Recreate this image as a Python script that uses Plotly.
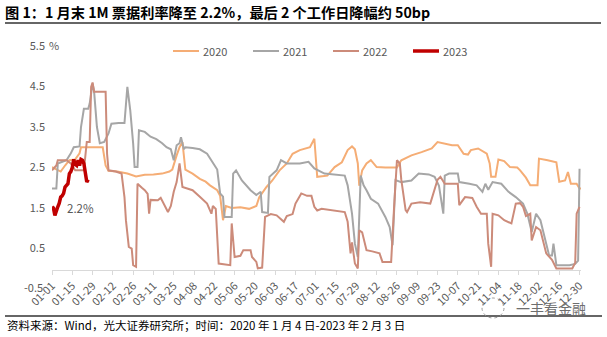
import plotly.graph_objects as go
import pandas as pd

# ---- data (day offset from Jan 1, value in %) ----
d20 = [0,3,6,9,12,16,19,20,26,33,35,37,39,45,52,58,64,70,76,81,83,86,88,90,92,97,102,106,109,114,116,118,120,124,130,136,141,143,148,152,157,162,166,171,178,181,183,190,195,200,204,207,209,211,212,214,217,220,224,230,238,241,248,255,262,266,270,276,280,284,287,289,294,300,302,303,306,308,312,316,321,323,327,330,335,336,342,348,350,354,356,358,362,364,365]
v20 = [2.51,2.45,2.40,2.55,2.68,2.70,2.85,3.0,3.0,3.0,3.0,2.55,2.42,2.40,2.35,2.28,2.32,2.33,2.35,2.40,2.45,2.80,3.0,3.13,2.45,2.35,2.22,2.15,2.06,1.94,1.80,1.20,1.55,1.50,1.52,1.48,1.55,1.77,2.02,2.18,2.43,2.60,2.84,2.93,3.0,3.21,2.27,2.30,2.51,2.63,2.93,3.02,2.95,2.60,2.05,2.43,2.60,2.68,2.51,2.50,2.50,2.68,2.80,2.88,2.97,3.13,3.10,3.05,3.05,2.84,2.82,2.93,2.97,2.84,2.60,2.27,2.27,2.70,2.66,2.51,2.50,2.43,2.25,2.06,2.06,2.72,2.68,2.63,2.15,2.18,2.39,2.10,2.10,1.98,1.98]

d21 = [0,3,4,7,10,13,15,19,20,22,25,26,28,29,31,33,36,39,41,46,50,52,54,56,57,59,60,64,68,72,76,79,82,84,86,88,89,91,92,97,102,107,111,114,116,118,119,124,125,127,131,134,137,141,144,145,149,150,155,158,162,166,171,177,179,181,188,195,202,204,207,209,211,213,215,217,220,225,230,233,235,237,241,248,253,260,264,267,270,271,274,280,281,288,293,297,299,301,304,310,315,320,325,328,331,334,337,341,343,345,346,348,357,361,363,364]
v21 = [1.98,1.98,2.60,2.65,2.68,2.85,3.0,3.02,3.5,3.95,3.95,4.08,4.57,4.40,3.50,3.10,3.13,3.34,3.58,3.60,3.60,4.49,3.91,3.09,2.51,2.51,3.42,3.38,3.26,3.20,3.10,3.0,2.95,2.68,3.05,3.10,3.25,2.95,3.0,2.98,2.95,2.84,2.60,2.45,1.86,1.78,1.28,1.28,2.35,2.43,2.18,2.05,1.94,1.82,1.90,1.40,1.38,2.27,2.43,2.68,2.60,2.60,2.60,2.64,2.55,2.48,2.35,2.32,2.30,2.06,1.36,0.62,0.29,2.30,2.06,1.94,1.73,1.61,1.28,1.03,0.58,2.19,2.14,2.18,2.35,2.33,2.27,2.05,1.36,2.30,2.35,2.35,2.14,2.10,2.06,1.90,2.10,1.95,2.14,2.10,1.90,1.77,1.61,1.36,0.91,1.36,1.20,0.62,0.33,0.33,0.62,0.09,0.09,0.12,0.20,2.47]

d22 = [0,3,4,10,13,16,22,23,24,26,27,28,29,37,38,39,44,48,49,50,51,53,55,56,58,59,62,64,66,67,68,71,73,75,77,80,82,84,86,88,90,94,97,102,107,110,111,113,115,123,124,126,130,132,137,138,141,142,145,147,151,155,160,162,166,168,172,176,179,181,183,186,193,198,202,204,206,207,209,211,212,214,217,221,226,228,234,236,238,240,241,244,245,248,254,261,263,266,268,271,280,281,285,290,293,296,300,301,303,304,308,312,317,320,323,325,327,330,331,334,337,341,345,348,359,361,362,364]
v22 = [2.43,2.55,2.68,2.68,2.60,2.43,2.43,2.90,3.13,3.13,4.49,4.60,4.37,4.37,2.84,2.43,2.40,2.35,2.02,1.77,1.20,0.54,0.50,0.09,0.05,2.10,2.0,1.94,1.85,1.36,1.70,1.69,1.69,1.75,1.61,1.40,1.55,1.90,2.14,2.60,2.02,1.98,1.94,1.78,1.61,1.36,1.55,1.48,0.13,0.09,1.12,0.29,0.32,0.46,0.46,0.29,0.17,0.01,0.03,1.28,1.35,1.32,1.16,1.30,1.35,1.61,1.86,1.80,1.80,1.53,1.44,1.48,1.44,1.42,1.40,1.16,0.38,0.65,0.13,0.01,0.95,0.90,0.46,0.43,0.38,0.17,0.17,1.5,2.68,2.60,2.20,1.45,1.40,1.61,1.64,1.61,1.86,2.20,2.27,2.10,2.10,1.57,1.77,1.75,1.53,1.36,1.36,0.62,0.05,1.36,1.32,1.20,1.12,1.61,1.62,1.53,1.30,1.36,0.70,1.03,0.95,0.38,0.22,0.01,0.01,0.15,1.36,1.53]

d23 = [0,1,2,3,4,5,6,7,8,9,10,11,12,13,14,15,16,17,18,19,20,21,22,23,24,25]
v23 = [1.53,1.50,1.32,1.45,1.53,1.62,1.77,1.80,1.86,2.02,2.05,2.10,2.35,2.40,2.50,2.70,2.58,2.55,2.68,2.55,2.70,2.68,2.60,2.30,2.14,2.20]

series_names = ["2020", "2021", "2022", "2023"]
series_colors = ["#F5AD75", "#A6A6A6", "#CC8B7A", "#C00000"]
series_widths = [2, 2, 2, 3.5]

base = pd.Timestamp("2020-01-01")
def to_dates(days):
    return [base + pd.Timedelta(days=d) for d in days]

tick_dates = pd.date_range("2020-01-01", "2020-12-30", freq="14D")
tick_text = [t.strftime("%m-%d") for t in tick_dates]
y_ticks = [0.5, 1.5, 2.5, 3.5, 4.5, 5.5]

FONT = "Noto Sans CJK SC"
GRAY = "#595959"

fig = go.Figure()
for name, d, v, c, w in zip(series_names, [d20, d21, d22, d23], [v20, v21, v22, v23], series_colors, series_widths):
    fig.add_trace(go.Scatter(x=to_dates(d), y=v, mode="lines", name=name,
                             line=dict(color=c, width=w), showlegend=False))

# plot area in pixels: left 52, right 581, top 46, bottom 270
L, W, B, H = 52, 529, 270, 224
def px(x):
    return (x - L) / W
def py(y):
    return (B - y) / H

fig.update_layout(
    width=607, height=337,
    margin=dict(l=L, r=607 - L - W, t=46, b=337 - B),
    paper_bgcolor="white", plot_bgcolor="white",
    font=dict(family=FONT, size=11, color=GRAY),
    title=dict(text="<b>图 1：1 月末 1M 票据利率降至 2.2%，最后 2 个工作日降幅约 50bp</b>",
               xref="container", yref="container", x=5 / 607, xanchor="left",
               y=1 - 13 / 337, yanchor="middle",
               font=dict(family=FONT, size=14.2, color="#000000")),
    showlegend=False,
)

fig.update_xaxes(type="date", range=["2020-01-01", "2020-12-31"],
                 tickvals=list(tick_dates), ticktext=tick_text, tickangle=-45,
                 tickfont=dict(size=11, color=GRAY, family=FONT),
                 showgrid=False, zeroline=False, showline=True, linecolor="#D9D9D9", linewidth=1,
                 ticks="outside", ticklen=4, tickcolor="#D9D9D9")
fig.update_yaxes(range=[-0.03, 5.5], tickvals=y_ticks, ticktext=[str(t) for t in y_ticks],
                 tickfont=dict(size=11, color=GRAY, family=FONT),
                 showgrid=False, zeroline=False, showline=False, ticks="",
                 ticklabelstandoff=6)

# manual legend (line sample + label)
legend_x = [173, 253, 333, 413]
for name, c, w, lx in zip(series_names, series_colors, series_widths, legend_x):
    fig.add_shape(type="line", xref="paper", yref="paper", x0=px(lx), x1=px(lx + 26),
                  y0=py(51), y1=py(51), line=dict(color=c, width=w))
    fig.add_annotation(xref="paper", yref="paper", x=px(lx + 28), y=py(51), text=name,
                       showarrow=False, xanchor="left", yanchor="middle",
                       font=dict(size=11, color=GRAY))

# title underline and footer line
fig.add_shape(type="line", xref="paper", yref="paper", x0=px(5), x1=px(601), y0=py(23), y1=py(23),
              line=dict(color="#666666", width=2))
fig.add_shape(type="line", xref="paper", yref="paper", x0=px(5), x1=px(602), y0=py(316), y1=py(316),
              line=dict(color="#333333", width=1.5))

ann = [
    dict(text="%", x=px(47), y=py(45), xanchor="left", yanchor="middle", font=dict(size=11, color=GRAY)),
    dict(text="-0.5", x=px(33), y=py(287), xanchor="center", yanchor="middle", font=dict(size=11, color=GRAY)),
    dict(text="资料来源：Wind，光大证券研究所；时间：2020 年 1 月 4 日-2023 年 2 月 3 日",
         x=px(5), y=py(325), xanchor="left", yanchor="middle", font=dict(size=11.5, color="#000000")),
    dict(text="一丰看金融", x=px(551), y=py(308), xanchor="center", yanchor="middle",
         font=dict(size=14, color="#6E6E6E")),
]
for a in ann:
    fig.add_annotation(xref="paper", yref="paper", showarrow=False, **a)

fig.add_annotation(x=base + pd.Timedelta(days=20), y=1.5, text="2.2%", showarrow=False,
                   font=dict(size=11.5, color=GRAY), xanchor="center", yanchor="middle")

# watermark icon (circle)
fig.add_shape(type="circle", xref="paper", yref="paper", x0=px(482), x1=px(504), y0=py(318), y1=py(298),
              line=dict(color="#9A9A9A", width=1, dash="dot"))

fig.write_html("out.html")
